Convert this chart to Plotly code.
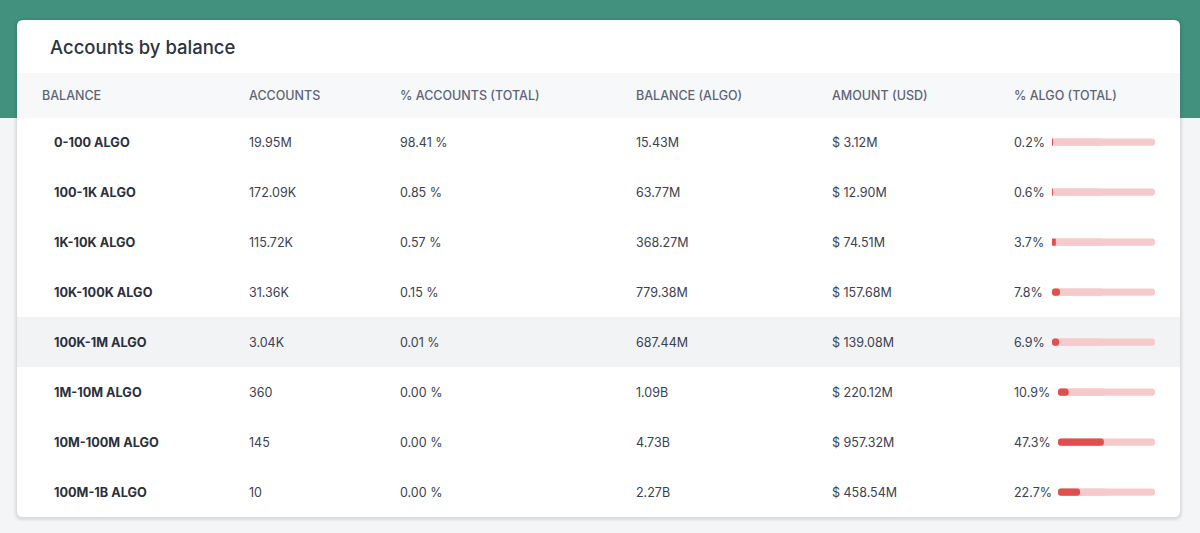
import plotly.graph_objects as go

W, H = 1200, 533

# ---- data ----
balance_ranges = ["0-100 ALGO", "100-1K ALGO", "1K-10K ALGO", "10K-100K ALGO",
                  "100K-1M ALGO", "1M-10M ALGO", "10M-100M ALGO", "100M-1B ALGO"]
accounts = ["19.95M", "172.09K", "115.72K", "31.36K", "3.04K", "360", "145", "10"]
pct_accounts = ["98.41 %", "0.85 %", "0.57 %", "0.15 %", "0.01 %", "0.00 %", "0.00 %", "0.00 %"]
balance_algo = ["15.43M", "63.77M", "368.27M", "779.38M", "687.44M", "1.09B", "4.73B", "2.27B"]
amount_usd = ["$ 3.12M", "$ 12.90M", "$ 74.51M", "$ 157.68M", "$ 139.08M", "$ 220.12M", "$ 957.32M", "$ 458.54M"]
pct_algo = [0.2, 0.6, 3.7, 7.8, 6.9, 10.9, 47.3, 22.7]
headers = ["BALANCE", "ACCOUNTS", "% ACCOUNTS (TOTAL)", "BALANCE (ALGO)", "AMOUNT (USD)", "% ALGO (TOTAL)"]
title = "Accounts by balance"
highlight_row = "100K-1M ALGO"

# ---- layout constants (pixels) ----
col_x = [52, 247, 398, 634, 830, 1012]
header_x = [40, 247, 398, 634, 830, 1012]
card_l, card_r, card_t, card_b = 17, 1180, 20, 517
head_t, head_b = 73, 118
rows_t, rows_b = 117, 517
FONT = "Inter, 'Noto Sans', sans-serif"
TRACK_MAX = 100
# progress track starts right after the label (flex layout): short vs long label
track_start = {4: 1052, 5: 1058}
track_end = 1155

def py(p):
    return 1 - p / H

def px(p):
    return p / W

def rrect(x0, y0, x1, y1, r):
    X0, X1 = px(x0), px(x1)
    Y0, Y1 = py(y0), py(y1)
    rx, ry = r / W, r / H
    return (f"M {X0+rx},{Y0} L {X1-rx},{Y0} Q {X1},{Y0} {X1},{Y0-ry} "
            f"L {X1},{Y1+ry} Q {X1},{Y1} {X1-rx},{Y1} L {X0+rx},{Y1} "
            f"Q {X0},{Y1} {X0},{Y1+ry} L {X0},{Y0-ry} Q {X0},{Y0} {X0+rx},{Y0} Z")

pct_labels = [f"{v}%" for v in pct_algo]

fig = go.Figure()

axis_of_len = {4: "x2", 5: "x3"}
for L, ax in axis_of_len.items():
    idx = [i for i, s in enumerate(pct_labels) if len(s) == L]
    cats = [balance_ranges[i] for i in idx]
    vals = [pct_algo[i] for i in idx]
    n = len(idx)
    common = dict(orientation="h", xaxis=ax, yaxis="y", width=0.145,
                  hoverinfo="skip", showlegend=False)
    # track: full bar (rounded right end) + half bar grown leftwards (rounded left end)
    fig.add_trace(go.Bar(y=cats, x=[TRACK_MAX] * n, base=[0] * n,
                         marker=dict(color="#f6caca", cornerradius="50%", line=dict(width=0)),
                         **common))
    fig.add_trace(go.Bar(y=cats, x=[-TRACK_MAX / 2] * n, base=[TRACK_MAX / 2] * n,
                         marker=dict(color="#f6caca", cornerradius="50%", line=dict(width=0)),
                         **common))
    # fill: grows from value back to 0 -> rounded left end, square right end
    fig.add_trace(go.Bar(y=cats, x=[-v for v in vals], base=vals,
                         marker=dict(color="#e04e4e", cornerradius="50%", line=dict(width=0)),
                         **common))

shapes = []
shapes.append(dict(type="rect", xref="paper", yref="paper", x0=0, x1=1,
                   y0=py(118), y1=1, fillcolor="#42917f", line=dict(width=0), layer="below"))
for i, a in enumerate([0.035, 0.03, 0.025, 0.02]):
    d = i + 1
    shapes.append(dict(type="path", xref="paper", yref="paper",
                       path=rrect(card_l - d, card_t - d + 1, card_r + d, card_b + d + 1, 6 + d),
                       fillcolor=f"rgba(30,40,60,{a})", line=dict(width=0), layer="below"))
shapes.append(dict(type="path", xref="paper", yref="paper",
                   path=rrect(card_l, card_t, card_r, card_b, 6),
                   fillcolor="#ffffff", line=dict(width=0), layer="below"))
shapes.append(dict(type="rect", xref="paper", yref="paper", x0=px(card_l), x1=px(card_r),
                   y0=py(head_b), y1=py(head_t), fillcolor="#f7f8fa", line=dict(width=0), layer="below"))
hi = balance_ranges.index(highlight_row)
shapes.append(dict(type="rect", xref="paper", yref="y", x0=px(card_l), x1=px(card_r),
                   y0=hi - 0.5, y1=hi + 0.5, fillcolor="#f2f3f5", line=dict(width=0), layer="below"))

annotations = []
annotations.append(dict(text=title, xref="x", yref="paper", x=48, y=py(47),
                        xanchor="left", yanchor="middle", showarrow=False,
                        font=dict(family=FONT, size=18.5, color="#2c3341", weight=500)))
for hx, h in zip(header_x, headers):
    annotations.append(dict(text=h, xref="x", yref="paper", x=hx, y=py(96),
                            xanchor="left", yanchor="middle", showarrow=False,
                            font=dict(family=FONT, size=12.5, color="#5c6577", weight=500)))

cols = [balance_ranges, accounts, pct_accounts, balance_algo, amount_usd, pct_labels]
for ci, col in enumerate(cols):
    for ri, val in enumerate(col):
        if ci == 0:
            f = dict(family=FONT, size=12.7, color="#2a303c", weight=700)
        else:
            f = dict(family=FONT, size=12.5, color="#3b4150", weight=400)
        annotations.append(dict(text=val, xref="x", yref="y", x=col_x[ci], y=balance_ranges[ri],
                                xanchor="left", yanchor="middle", showarrow=False, font=f))

fig.update_layout(
    width=W, height=H, margin=dict(l=0, r=0, t=0, b=0),
    paper_bgcolor="#f4f5f7", plot_bgcolor="rgba(0,0,0,0)",
    barmode="overlay", showlegend=False,
    xaxis=dict(range=[0, W], domain=[0, 1], visible=False, fixedrange=True),
    xaxis2=dict(range=[0, TRACK_MAX], domain=[px(track_start[4]), px(track_end)], anchor="y",
                visible=False, fixedrange=True),
    xaxis3=dict(range=[0, TRACK_MAX], domain=[px(track_start[5]), px(track_end)], anchor="y",
                visible=False, fixedrange=True),
    yaxis=dict(type="category", categoryorder="array", categoryarray=balance_ranges,
               range=[len(balance_ranges) - 0.5, -0.5], domain=[py(rows_b), py(rows_t)],
               visible=False, fixedrange=True),
    shapes=shapes, annotations=annotations,
)

fig.write_html("out.html", config={"displayModeBar": False},
               post_script="document.body.style.margin='0';document.body.style.overflow='hidden';")
